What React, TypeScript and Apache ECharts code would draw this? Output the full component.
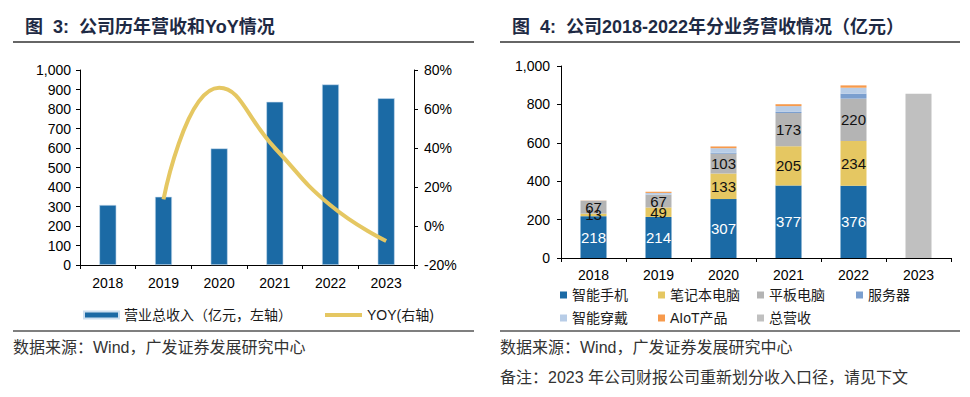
import React, { useEffect, useRef } from "react";
import * as echarts from "echarts";

const years = ["2018", "2019", "2020", "2021", "2022", "2023"];
const revenue = [308, 350, 598, 837, 926, 855];
const yoy: (number | null)[] = [null, 13.6, 70.9, 40.0, 10.6, -7.7];

const phone = [218, 214, 307, 377, 376, null];
const laptop = [13, 49, 133, 205, 234, null];
const tablet = [67, 67, 103, 173, 220, null];
const server = [0, 0, 5, 6, 26, null];
const wearable = [1, 9, 24, 30, 31, null];
const aiot = [1, 6, 9, 10, 12, null];
const totalRev = [null, null, null, null, null, 855];

const FONT = "'Liberation Sans', Arial, 'Noto Sans CJK SC', sans-serif";
const BLUE = "#1b6aa5";
const YELLOW = "#e5c762";
const GRAY_T = "#b4b4b4";
const SERVER_C = "#7b9fcf";
const WEAR_C = "#b8cde7";
const AIOT_C = "#f79a4c";
const TOTAL_C = "#c0c0c0";

export default function App() {
  const ref = useRef<HTMLDivElement>(null);
  useEffect(() => {
    if (!ref.current) return;
    const chart = echarts.init(ref.current, undefined, { renderer: "svg" });
    const axisLine = { show: true, lineStyle: { color: "#000", width: 1 } };
    const axisLabel = { color: "#000", fontSize: 14, fontFamily: FONT };
    const legendText = { color: "#1a1a1a", fontSize: 14, fontFamily: FONT };
    const segLabel = (color: string) => ({
      show: true,
      position: "inside",
      color,
      fontSize: 15,
      fontFamily: FONT,
      formatter: (p: any) => (p.value ? String(p.value) : ""),
    });
    const rightItems = [
      { name: "智能手机", left: 555, top: 283 },
      { name: "笔记本电脑", left: 653, top: 283 },
      { name: "平板电脑", left: 752, top: 283 },
      { name: "服务器", left: 851, top: 283 },
      { name: "智能穿戴", left: 555, top: 306 },
      { name: "AIoT产品", left: 653, top: 306 },
      { name: "总营收", left: 752, top: 306 },
    ];
    const option: any = {
      animation: false,
      textStyle: { fontFamily: FONT },
      grid: [
        { left: 80, right: 556, top: 70, bottom: 132 },
        { left: 561, right: 19, top: 66, bottom: 139 },
      ],
      legend: [
        {
          left: 78,
          top: 303,
          itemWidth: 35,
          itemHeight: 7,
          icon: "rect",
          textStyle: legendText,
          data: ["营业总收入（亿元，左轴）"],
        },
        {
          left: 320,
          top: 303,
          itemWidth: 37,
          itemHeight: 4,
          icon: "rect",
          itemGap: 2,
          textStyle: legendText,
          data: ["YOY(右轴)"],
        },
        ...rightItems.map((it) => ({
          left: it.left,
          top: it.top,
          itemWidth: 7,
          itemHeight: 7,
          itemGap: 4,
          icon: "rect",
          textStyle: legendText,
          data: [it.name],
        })),
      ],
      xAxis: [
        {
          type: "category",
          gridIndex: 0,
          data: years,
          axisLine,
          axisTick: { show: true, length: 4, lineStyle: { color: "#000" } },
          axisLabel: { ...axisLabel, margin: 11 },
        },
        {
          type: "category",
          gridIndex: 1,
          data: years,
          axisLine,
          axisTick: { show: true, length: 4, lineStyle: { color: "#000" } },
          axisLabel: { ...axisLabel, margin: 10 },
        },
      ],
      yAxis: [
        {
          type: "value",
          gridIndex: 0,
          min: 0,
          max: 1000,
          interval: 100,
          axisLine,
          axisTick: { show: true, length: 4, lineStyle: { color: "#000" } },
          splitLine: { show: false },
          axisLabel: {
            ...axisLabel,
            margin: 9,
            formatter: (v: number) => v.toLocaleString("en-US"),
          },
        },
        {
          type: "value",
          gridIndex: 0,
          position: "right",
          min: -20,
          max: 80,
          interval: 20,
          axisLine,
          axisTick: { show: true, length: 4, lineStyle: { color: "#000" } },
          splitLine: { show: false },
          axisLabel: { ...axisLabel, margin: 10, formatter: "{value}%" },
        },
        {
          type: "value",
          gridIndex: 1,
          min: 0,
          max: 1000,
          interval: 200,
          axisLine,
          axisTick: { show: true, length: 4, lineStyle: { color: "#000" } },
          splitLine: { show: false },
          axisLabel: {
            ...axisLabel,
            margin: 11,
            formatter: (v: number) => v.toLocaleString("en-US"),
          },
        },
      ],
      series: [
        {
          name: "营业总收入（亿元，左轴）",
          type: "bar",
          xAxisIndex: 0,
          yAxisIndex: 0,
          data: revenue,
          barWidth: 17,
          itemStyle: { color: BLUE, borderColor: "#cddff0", borderWidth: 0.6 },
        },
        {
          name: "YOY(右轴)",
          type: "line",
          xAxisIndex: 0,
          yAxisIndex: 1,
          data: yoy,
          smooth: 0.5,
          symbol: "none",
          lineStyle: { color: YELLOW, width: 4 },
          itemStyle: { color: YELLOW },
        },
        {
          name: "智能手机",
          type: "bar",
          stack: "a",
          xAxisIndex: 1,
          yAxisIndex: 2,
          barWidth: 26,
          data: phone,
          itemStyle: { color: BLUE },
          label: segLabel("#ffffff"),
        },
        {
          name: "笔记本电脑",
          type: "bar",
          stack: "a",
          xAxisIndex: 1,
          yAxisIndex: 2,
          data: laptop,
          itemStyle: { color: YELLOW },
          label: segLabel("#111111"),
        },
        {
          name: "平板电脑",
          type: "bar",
          stack: "a",
          xAxisIndex: 1,
          yAxisIndex: 2,
          data: tablet,
          itemStyle: { color: GRAY_T },
          label: segLabel("#111111"),
        },
        {
          name: "服务器",
          type: "bar",
          stack: "a",
          xAxisIndex: 1,
          yAxisIndex: 2,
          data: server,
          itemStyle: { color: SERVER_C },
        },
        {
          name: "智能穿戴",
          type: "bar",
          stack: "a",
          xAxisIndex: 1,
          yAxisIndex: 2,
          data: wearable,
          itemStyle: { color: WEAR_C },
        },
        {
          name: "AIoT产品",
          type: "bar",
          stack: "a",
          xAxisIndex: 1,
          yAxisIndex: 2,
          data: aiot,
          itemStyle: { color: AIOT_C },
        },
        {
          name: "总营收",
          type: "bar",
          stack: "a",
          xAxisIndex: 1,
          yAxisIndex: 2,
          data: totalRev,
          itemStyle: { color: TOTAL_C },
        },
      ],
      graphic: [
        {
          type: "text",
          x: 25,
          y: 27,
          style: {
            text: "图  3:  公司历年营收和YoY情况",
            fill: "#1e2a44",
            font: `bold 18px ${FONT}`,
            verticalAlign: "middle",
          },
        },
        {
          type: "text",
          x: 512,
          y: 27,
          style: {
            text: "图  4:  公司2018-2022年分业务营收情况（亿元）",
            fill: "#1e2a44",
            font: `bold 18px ${FONT}`,
            verticalAlign: "middle",
          },
        },
        { type: "line", shape: { x1: 13, y1: 42, x2: 474, y2: 42 }, style: { stroke: "#333", lineWidth: 1.5 } },
        { type: "line", shape: { x1: 500, y1: 42, x2: 960, y2: 42 }, style: { stroke: "#333", lineWidth: 1.5 } },
        { type: "line", shape: { x1: 13, y1: 331, x2: 474, y2: 331 }, style: { stroke: "#555", lineWidth: 1.5 } },
        { type: "line", shape: { x1: 500, y1: 331, x2: 960, y2: 331 }, style: { stroke: "#555", lineWidth: 1.5 } },
        {
          type: "text",
          x: 13,
          y: 347,
          style: {
            text: "数据来源：Wind，广发证券发展研究中心",
            fill: "#333",
            font: `16px ${FONT}`,
            verticalAlign: "middle",
          },
        },
        {
          type: "text",
          x: 500,
          y: 347,
          style: {
            text: "数据来源：Wind，广发证券发展研究中心",
            fill: "#333",
            font: `16px ${FONT}`,
            verticalAlign: "middle",
          },
        },
        {
          type: "text",
          x: 500,
          y: 377,
          style: {
            text: "备注：2023 年公司财报公司重新划分收入口径，请见下文",
            fill: "#333",
            font: `16px ${FONT}`,
            verticalAlign: "middle",
          },
        },
      ],
    };
    chart.setOption(option);
    return () => chart.dispose();
  }, []);
  return (
    <div
      ref={ref}
      style={{ position: "absolute", left: 0, top: 0, width: 970, height: 397, background: "#fff" }}
    />
  );
}
